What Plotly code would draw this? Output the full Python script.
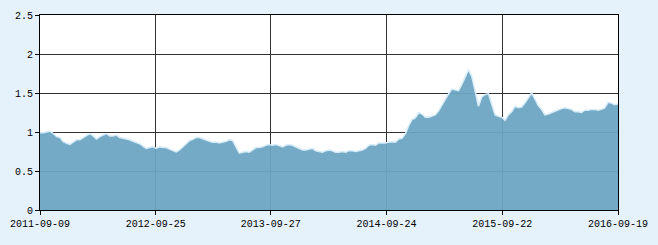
import plotly.graph_objects as go

values = [
    0.99, 0.99, 1.00, 1.01, 0.98, 0.94, 0.93, 0.875, 0.855, 0.84,
    0.87, 0.90, 0.90, 0.93, 0.96, 0.98, 0.95, 0.91, 0.94, 0.96,
    0.98, 0.95, 0.95, 0.96, 0.93, 0.92, 0.91, 0.90, 0.88, 0.865,
    0.85, 0.82, 0.79, 0.80, 0.81, 0.79, 0.81, 0.80, 0.80, 0.78,
    0.765, 0.745, 0.77, 0.81, 0.85, 0.89, 0.905, 0.93, 0.93, 0.91,
    0.895, 0.88, 0.87, 0.87, 0.86, 0.87, 0.88, 0.90, 0.89, 0.81,
    0.73, 0.74, 0.75, 0.74, 0.77, 0.80, 0.80, 0.81, 0.83, 0.84,
    0.83, 0.84, 0.825, 0.81, 0.83, 0.84, 0.83, 0.81, 0.80, 0.77,
    0.77, 0.78, 0.79, 0.76, 0.75, 0.74, 0.76, 0.77, 0.76, 0.74,
    0.74, 0.75, 0.74, 0.76, 0.76, 0.75, 0.76, 0.77, 0.79, 0.83,
    0.84, 0.83, 0.86, 0.86, 0.86, 0.87, 0.875, 0.87, 0.91, 0.92,
    0.98, 1.08, 1.16, 1.18, 1.25, 1.23, 1.19, 1.19, 1.21, 1.22,
    1.27, 1.35, 1.42, 1.49, 1.55, 1.54, 1.53, 1.61, 1.70, 1.80,
    1.71, 1.52, 1.33, 1.45, 1.48, 1.49, 1.36, 1.22, 1.20, 1.19,
    1.15, 1.22, 1.26, 1.33, 1.31, 1.32, 1.375, 1.43, 1.50, 1.42,
    1.34, 1.29, 1.22, 1.23, 1.25, 1.27, 1.28, 1.30, 1.31, 1.30,
    1.29, 1.26, 1.26, 1.25, 1.28, 1.28, 1.29, 1.29, 1.28, 1.29,
    1.31, 1.38, 1.37, 1.35, 1.36,
]
step = 7
x_idx = [i * step for i in range(len(values))]

tick_positions = [0, 244, 486, 730, 974, 1218]
tick_labels = ["2011-09-09", "2012-09-25", "2013-09-27", "2014-09-24", "2015-09-22", "2016-09-19"]
y_ticks = [0, 0.5, 1, 1.5, 2, 2.5]
y_labels = ["0", "0.5", "1", "1.5", "2", "2.5"]

fig = go.Figure()
fig.add_trace(go.Scatter(
    x=x_idx, y=values, mode="lines", fill="tozeroy",
    fillcolor="rgba(110,165,195,0.95)",
    line=dict(color="#D6ECF8", width=1.5),
    hoverinfo="skip", showlegend=False,
))

font = dict(family="Liberation Mono, monospace", size=10, color="#000000")
fig.update_layout(
    width=658, height=245,
    margin=dict(l=39, r=40, t=10, b=35),
    paper_bgcolor="#E6F2FB",
    plot_bgcolor="#FFFFFF",
    font=font,
)
fig.update_xaxes(
    range=[0, 1218], tickmode="array", tickvals=tick_positions, ticktext=tick_labels,
    showgrid=True, gridcolor="#333333", gridwidth=1,
    showline=True, linecolor="#000000", linewidth=1, mirror=True,
    ticks="outside", ticklen=4, tickcolor="#000000", zeroline=False,
    tickfont=font,
)
fig.update_yaxes(
    range=[0, 2.5], tickmode="array", tickvals=y_ticks, ticktext=y_labels,
    showgrid=True, gridcolor="#333333", gridwidth=1,
    showline=True, linecolor="#000000", linewidth=1, mirror=True,
    ticks="outside", ticklen=4, tickcolor="#000000", zeroline=False,
    tickfont=font,
)
fig.write_html("out.html")
